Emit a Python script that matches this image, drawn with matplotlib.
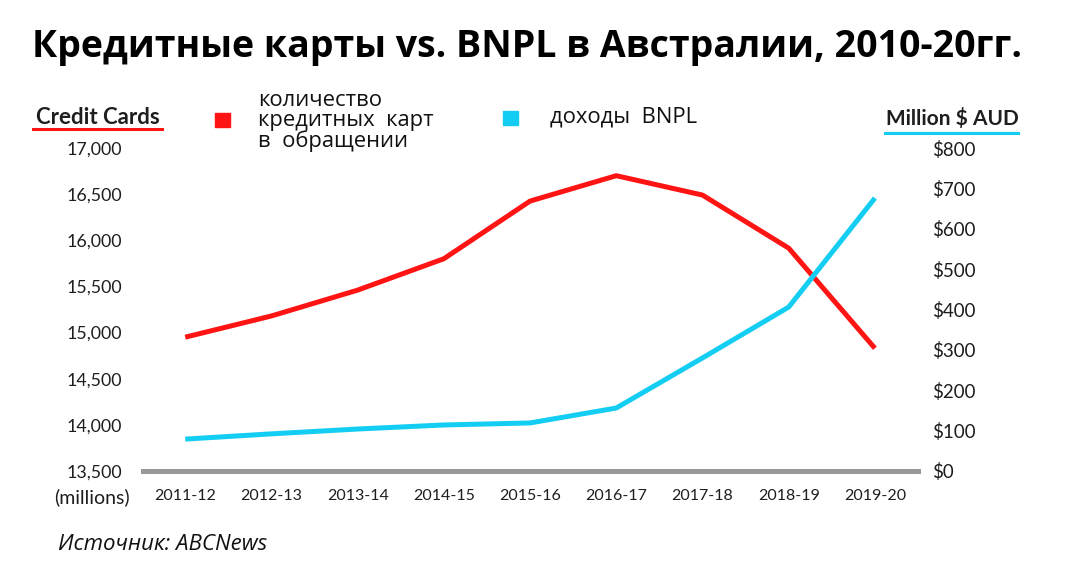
import matplotlib.pyplot as plt
from matplotlib.patches import Rectangle
from matplotlib.lines import Line2D

plt.rcParams['font.family'] = ['Lato', 'DejaVu Sans']

periods = ['2011-12', '2012-13', '2013-14', '2014-15', '2015-16',
           '2016-17', '2017-18', '2018-19', '2019-20']
credit_cards = [14950, 15180, 15460, 15800, 16425, 16700, 16490, 15915, 14830]
bnpl_revenue = [79, 92, 104, 114, 119, 156, 280, 406, 676]

left_ticks = [13500, 14000, 14500, 15000, 15500, 16000, 16500, 17000]
right_ticks = [0, 100, 200, 300, 400, 500, 600, 700, 800]

RED = '#ff1414'
CYAN = '#14cdf2'
GRAY = '#999999'
TEXT = '#1e1e1e'

fig = plt.figure(figsize=(10.89, 5.8), dpi=100)
ax = fig.add_axes([143 / 1089, 1 - 471 / 580, 775 / 1089, 323 / 580])
ax2 = ax.twinx()

x = list(range(len(periods)))
ax.plot(x, credit_cards, color=RED, lw=3.6, solid_capstyle='butt', zorder=3)
ax2.plot(x, bnpl_revenue, color=CYAN, lw=3.6, solid_capstyle='butt', zorder=3)

ax.set_xlim(-0.49, 8.5)
ax.set_ylim(13500, 17000)
ax2.set_ylim(0, 800)
ax.axhline(13500, color=GRAY, lw=3.6, clip_on=False, zorder=2)

ax.set_yticks(left_ticks)
ax.set_yticklabels([f'{v:,}' for v in left_ticks])
ax2.set_yticks(right_ticks)
ax2.set_yticklabels([f'${v}' for v in right_ticks])
ax.set_xticks(x)
ax.set_xticklabels(periods)

for a in (ax, ax2):
    for s in a.spines.values():
        s.set_visible(False)
    a.tick_params(length=0, labelcolor=TEXT)
ax.tick_params(axis='y', pad=15, labelsize=12.8)
ax2.tick_params(axis='y', pad=10, labelsize=13.5)
ax.tick_params(axis='x', pad=13, labelsize=11.5)
for lab in ax.get_xticklabels():
    lab.set_x(lab.get_position()[0])

fig.text(92 / 1089, 1 - 497 / 580, '(millions)', ha='center', va='center',
         fontsize=14, color=TEXT)

fig.text(527 / 1089, 1 - 47 / 580,
         'Кредитные карты vs. BNPL в Австралии, 2010-20гг.',
         ha='center', va='center', fontsize=27, fontweight='bold',
         family=['Liberation Sans Narrow', 'Open Sans', 'DejaVu Sans'])

# axis headers with underlines
fig.text(98 / 1089, 1 - 117 / 580, 'Credit Cards', ha='center', va='center',
         fontsize=16, fontweight='bold', color=TEXT)
fig.add_artist(Line2D([33 / 1089, 162 / 1089], [1 - 129 / 580] * 2,
                      color=RED, lw=2.2))
fig.text(952 / 1089, 1 - 119 / 580, 'Million $ AUD', ha='center', va='center',
         fontsize=15, fontweight='bold', color=TEXT)
fig.add_artist(Line2D([885 / 1089, 1018 / 1089], [1 - 133 / 580] * 2,
                      color=CYAN, lw=2.2))

# legend
fig.add_artist(Rectangle((215 / 1089, 1 - 127 / 580), 15 / 1089, 14 / 580,
                         color=RED, transform=fig.transFigure))
fig.text(258 / 1089, 1 - 121 / 580, 'количество\nкредитных  карт\nв  обращении',
         ha='left', va='center', fontsize=15.8, linespacing=0.93,
         family=['Open Sans', 'DejaVu Sans'], color='#111111')
fig.add_artist(Rectangle((503 / 1089, 1 - 125 / 580), 15 / 1089, 14 / 580,
                         color=CYAN, transform=fig.transFigure))
fig.text(550 / 1089, 1 - 117 / 580, 'доходы  BNPL', ha='left', va='center',
         fontsize=15.8, family=['Open Sans', 'DejaVu Sans'], color='#111111')

fig.text(58 / 1089, 1 - 545 / 580, 'Источник: ABCNews', ha='left', va='center',
         fontsize=16, style='italic', family=['Open Sans', 'DejaVu Sans'],
         color='#111111')

fig.savefig('out.png', dpi=100)
